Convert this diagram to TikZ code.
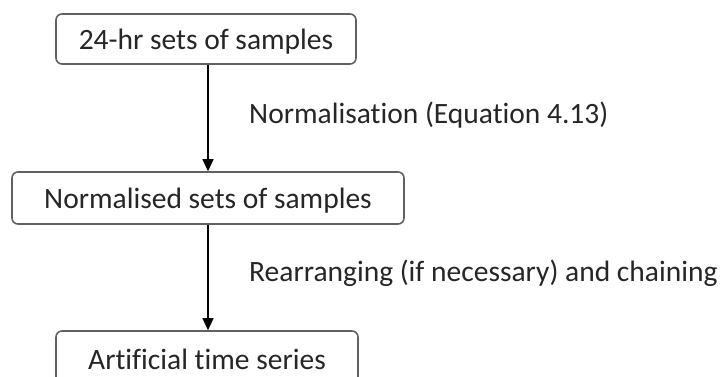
\documentclass[tikz,border=0pt]{standalone}
\usepackage{fontspec}
\setmainfont[Ligatures={NoCommon,NoRare}]{Carlito}
\usetikzlibrary{arrows.meta}
\begin{document}
\begin{tikzpicture}[x=1pt,y=-1pt,
  box/.style={draw=black!62, line width=1.6pt, rounded corners=6pt, fill=white,
    inner sep=0pt, text height=26pt, text depth=6pt,
    font=\fontsize{29.5}{32}\selectfont, text=black!85},
  flow/.style={line width=1.2pt, -{Triangle[length=12pt,width=11pt]}},
  lab/.style={anchor=west, inner sep=0pt, font=\fontsize{29.5}{32}\selectfont, text=black!85}]
\useasboundingbox (0,0) rectangle (726,376);
\clip (0,0) rectangle (726,376);
\node[box, minimum width=300pt, minimum height=50pt] (a) at (206,39) {24-hr sets of samples};
\node[box, minimum width=392pt, minimum height=52pt] (b) at (208,198) {Normalised sets of samples};
\node[box, minimum width=302pt, minimum height=56pt] (c) at (207,359) {Artificial time series};
\draw[flow] (a.south -| 208,0) -- (b.north -| 208,0);
\draw[flow] (b.south -| 208,0) -- (c.north -| 208,0);
\node[lab] (l1) at (249,115) {Normalisation (Equation 4.13)};
\node[lab] (l2) at (249,273) {Rearranging (if necessary) and chaining};
\end{tikzpicture}
\end{document}
